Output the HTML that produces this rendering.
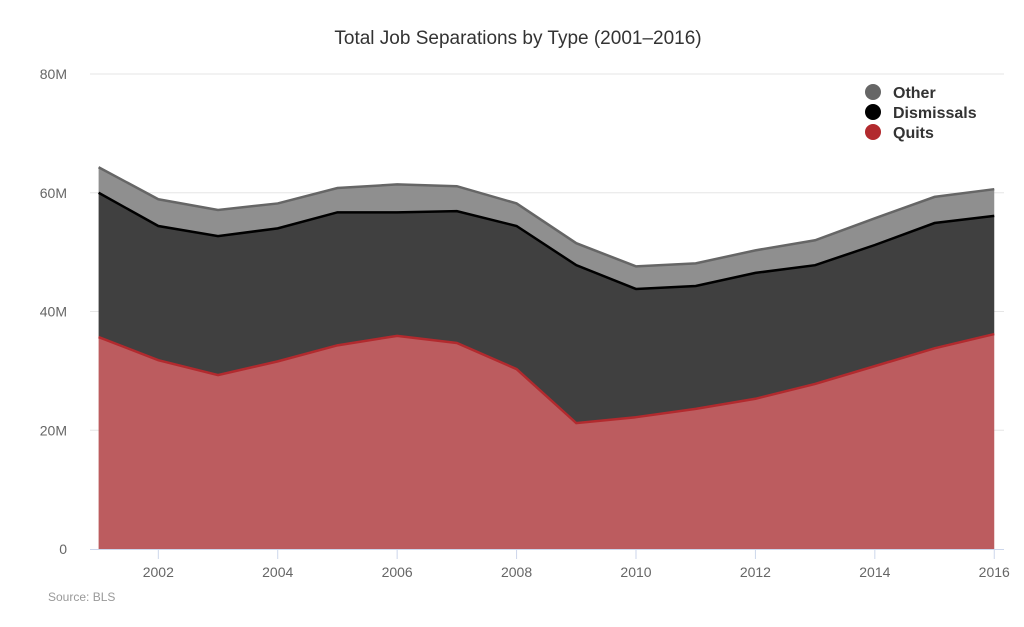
<!DOCTYPE html>
<html><head><meta charset="utf-8"><style>
body{margin:0;background:#fff;font-family:"Liberation Sans",sans-serif}
</style></head><body>
<svg id="c" width="1024" height="622" xmlns="http://www.w3.org/2000/svg">
<text x="518" y="44" text-anchor="middle" font-size="19" fill="#333">Total Job Separations by Type (2001–2016)</text>
<g id="grid"></g><g id="areas"></g><g id="axes"></g>
<g>
<g><circle cx="873" cy="92" r="8" fill="#666"/><text x="893" y="98" font-size="16" font-weight="bold" fill="#333">Other</text></g>
<g><circle cx="873" cy="112" r="8" fill="#000"/><text x="893" y="118" font-size="16" font-weight="bold" fill="#333">Dismissals</text></g>
<g><circle cx="873" cy="132" r="8" fill="#b22a2e"/><text x="893" y="138" font-size="16" font-weight="bold" fill="#333">Quits</text></g>
</g>
<text x="48" y="601" font-size="12" fill="#999">Source: BLS</text>
</svg>
<script>
const years=[2001,2002,2003,2004,2005,2006,2007,2008,2009,2010,2011,2012,2013,2014,2015,2016];
const quits=[35.7,31.8,29.3,31.6,34.3,35.9,34.7,30.3,21.2,22.2,23.6,25.3,27.8,30.8,33.8,36.2];
const dismissals=[24.3,22.6,23.4,22.4,22.4,20.8,22.2,24.1,26.6,21.6,20.7,21.2,20.0,20.4,21.1,19.9];
const other=[4.3,4.5,4.4,4.2,4.1,4.7,4.2,3.8,3.7,3.8,3.8,3.8,4.2,4.5,4.4,4.5];
const yTicks=[0,20,40,60,80];
const yTickLabels=["0","20M","40M","60M","80M"];
const xTicks=[2002,2004,2006,2008,2010,2012,2014,2016];
const NS="http://www.w3.org/2000/svg";
const x=v=>98.6+(v-2001)*59.71, y=v=>549-v*5.9375;
function mk(t,a,p){const e=document.createElementNS(NS,t);for(const k in a)e.setAttribute(k,a[k]);p.appendChild(e);return e;}
const grid=document.getElementById('grid'),areas=document.getElementById('areas'),axes=document.getElementById('axes');
yTicks.forEach((t,i)=>{
 if(t>0){const l=mk('line',{x1:90,x2:1004,y1:y(t),y2:y(t),stroke:'#e6e6e6'},grid);
 
 }
 const tx=mk('text',{x:67,y:y(t)+5,'text-anchor':'end','font-size':14,fill:'#666'},axes);tx.textContent=yTickLabels[i];
 
 
});
const xl=mk('line',{x1:90,x2:1004,y1:549.5,y2:549.5,stroke:'#ccd6eb'},axes);


xTicks.forEach(t=>{
 mk('line',{x1:x(t),x2:x(t),y1:549,y2:559,stroke:'#ccd6eb'},axes);
 const tx=mk('text',{x:x(t),y:577,'text-anchor':'middle','font-size':14,fill:'#666'},axes);tx.textContent=t;
 
 
});
const base=years.map(()=>0);
const s1=quits.map((v,i)=>base[i]+v), s2=s1.map((v,i)=>v+dismissals[i]), s3=s2.map((v,i)=>v+other[i]);
function area(top,bot,fill,stroke,name){
 let d='M'+years.map((yr,i)=>x(yr)+','+y(top[i])).join('L');
 d+='L'+years.slice().reverse().map((yr,j)=>x(yr)+','+y(bot[years.length-1-j])).join('L')+'Z';
 const p=mk('path',{d:d,fill:fill},areas);
 
 
 const l=mk('path',{d:'M'+years.map((yr,i)=>x(yr)+','+y(top[i])).join('L'),fill:'none',stroke:stroke,'stroke-width':2.5},areas);
 
 
}
area(s3,s2,'#8f8f8f','#666','other');
area(s2,s1,'#404040','#000','dismissals');
area(s1,base,'#bc5c5f','#b22a2e','quits');
</script>
</body></html>
